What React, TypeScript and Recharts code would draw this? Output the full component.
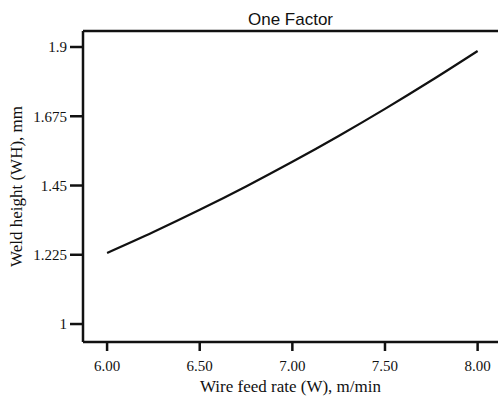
import { LineChart, Line, XAxis, YAxis, ReferenceLine, Label } from 'recharts';

// wire feed rate (m/min) and predicted weld height (mm)
const feedRate = [6.0, 6.25, 6.5, 6.75, 7.0, 7.25, 7.5, 7.75, 8.0];
const weldHeight = [1.231, 1.299, 1.371, 1.447, 1.527, 1.611, 1.699, 1.791, 1.887];

const xTicks = [6.0, 6.5, 7.0, 7.5, 8.0];
const yTicks = [1, 1.225, 1.45, 1.675, 1.9];
const yTickLabels = ['1', '1.225', '1.45', '1.675', '1.9'];

const X_MIN = 5.87;
const X_MAX = 8.11;
const Y_MIN = 0.9416;
const Y_MAX = 1.952;

const data = feedRate.map((w, i) => ({ w, wh: weldHeight[i] }));

const INK = '#111';
const SERIF = '"Liberation Serif", "Times New Roman", serif';
const SANS = '"Liberation Sans", Arial, sans-serif';

const YTitle = ({ viewBox }: any) => {
  const cx = 16;
  const cy = viewBox.y + viewBox.height / 2;
  return (
    <text
      x={cx}
      y={cy}
      transform={`rotate(-90, ${cx}, ${cy})`}
      textAnchor="middle"
      dominantBaseline="central"
      fill={INK}
      style={{ fontFamily: SERIF, fontSize: 17 }}
    >
      Weld height (WH), mm
    </text>
  );
};

export default function App() {
  return (
    <div style={{ position: 'absolute', left: 0, top: 0, width: 498, height: 396, background: '#fff' }}>
      <LineChart width={498} height={396} data={data} margin={{ top: 31, right: 0, bottom: 0, left: 0 }}>
        <XAxis
          dataKey="w"
          type="number"
          domain={[X_MIN, X_MAX]}
          ticks={xTicks}
          tickFormatter={(v: number) => v.toFixed(2)}
          height={54}
          allowDataOverflow
          axisLine={{ stroke: INK, strokeWidth: 2.5 }}
          tickLine={{ stroke: INK, strokeWidth: 2.5 }}
          tickSize={9}
          tickMargin={9}
          tick={{ fill: INK, fontFamily: SERIF, fontSize: 15 }}
        >
          <Label
            value="Wire feed rate (W), m/min"
            position="insideBottom"
            offset={4}
            fill={INK}
            style={{ fontFamily: SERIF, fontSize: 17 }}
          />
        </XAxis>
        <YAxis
          type="number"
          domain={[Y_MIN, Y_MAX]}
          ticks={yTicks}
          tickFormatter={(v: number) => yTickLabels[yTicks.indexOf(v)] ?? String(v)}
          width={83}
          allowDataOverflow
          axisLine={{ stroke: INK, strokeWidth: 2.5 }}
          tickLine={{ stroke: INK, strokeWidth: 2.5 }}
          tickSize={13}
          tickMargin={3}
          tick={{ fill: INK, fontFamily: SERIF, fontSize: 15 }}
        >
          <Label content={<YTitle />} />
        </YAxis>
        <ReferenceLine y={Y_MAX} stroke={INK} strokeWidth={2.5}>
          <Label
            value="One Factor"
            position="top"
            offset={6}
            fill={INK}
            style={{ fontFamily: SANS, fontSize: 17 }}
          />
        </ReferenceLine>
        <Line
          type="monotone"
          dataKey="wh"
          stroke={INK}
          strokeWidth={2.2}
          dot={false}
          isAnimationActive={false}
        />
      </LineChart>
    </div>
  );
}
